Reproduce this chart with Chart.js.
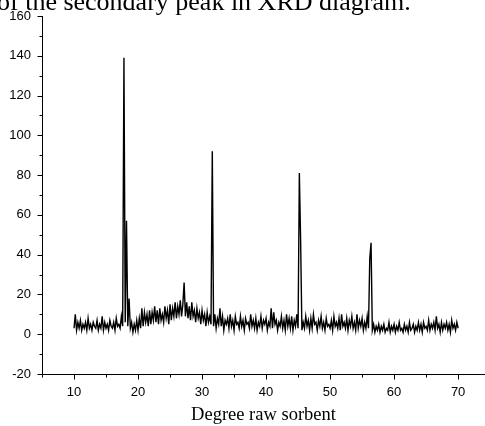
<!DOCTYPE html>
<html>
<head>
<meta charset="utf-8">
<script src="https://cdn.jsdelivr.net/npm/chart.js@4"></script>
<style>
  html, body { margin: 0; padding: 0; background: #fff; }
  canvas { display: block; }
</style>
</head>
<body>
<canvas id="xrd-chart" width="485" height="426"></canvas>
<script>
// XRD pattern of the raw sorbent, sampled every 0.2 degree from 10 to 70
const angleStart = 10;
const angleStep = 0.2;
const intensity = [
    3, 10, 2, 6, 3, 7, 2, 5, 3, 6,
    2, 8, 3, 5, 2, 6, 4, 3, 7, 2,
    5, 3, 9, 2, 6, 3, 5, 2, 7, 4,
    3, 6, 2, 8, 4, 5, 3, 9, 4, 139,
    6, 57, 4, 18, 3, 6, 1, 5, 2, 7,
    2, 8, 3, 13, 4, 11, 6, 10, 4, 12,
    5, 11, 7, 14, 6, 12, 5, 13, 7, 10,
    6, 14, 8, 12, 5, 15, 7, 13, 9, 16,
    8, 14, 10, 17, 9, 15, 26, 9, 16, 8,
    14, 7, 16, 9, 12, 6, 13, 8, 11, 5,
    12, 7, 10, 4, 11, 6, 9, 5, 92, 4,
    10, 3, 8, 5, 13, 4, 9, 2, 7, 5,
    8, 3, 10, 4, 7, 2, 9, 5, 6, 3,
    9, 4, 7, 2, 8, 5, 6, 3, 10, 4,
    7, 3, 8, 2, 6, 4, 9, 3, 7, 5,
    8, 2, 6, 4, 13, 3, 11, 5, 7, 2,
    6, 4, 9, 3, 7, 2, 10, 4, 8, 3,
    9, 2, 7, 4, 10, 3, 81, 47, 2, 6,
    3, 9, 4, 7, 2, 8, 3, 10, 5, 6,
    2, 7, 4, 9, 3, 6, 2, 8, 4, 5,
    3, 7, 2, 9, 4, 6, 3, 8, 2, 10,
    4, 6, 3, 8, 2, 7, 4, 9, 3, 6,
    2, 10, 3, 7, 4, 8, 2, 6, 3, 9,
    3, 38, 46, 2, 5, 1, 4, 2, 5, 1,
    4, 2, 5, 1, 3, 2, 6, 1, 4, 2,
    5, 1, 4, 2, 6, 2, 3, 1, 5, 2,
    4, 1, 6, 2, 3, 5, 1, 4, 2, 6,
    2, 5, 1, 6, 3, 4, 2, 7, 2, 5,
    3, 6, 2, 9, 3, 5, 1, 6, 2, 5,
    3, 6, 2, 5, 1, 7, 3, 5, 2, 6,
    3
];

const xTickLabels = [10, 20, 30, 40, 50, 60, 70];
const yTickLabels = [-20, 0, 20, 40, 60, 80, 100, 120, 140, 160];
const xAxisTitle = 'Degree raw sorbent';
const captionText = 'of the secondary peak in XRD diagram.';

let points = intensity.map((v, i) => ({ x: angleStart + i * angleStep, y: v }));

// Axis lines and tick marks (major + minor), drawn Origin style
const axisPlugin = {
    id: 'axisPlugin',
    afterDraw(chart) {
        const ctx = chart.ctx;
        const area = chart.chartArea;
        const xs = chart.scales.x;
        const ys = chart.scales.y;
        ctx.save();
        ctx.strokeStyle = '#000';
        ctx.lineWidth = 1;
        ctx.beginPath();
        let ax = Math.round(area.left) + 0.5;
        let ay = Math.round(area.bottom) + 0.5;
        ctx.moveTo(ax, Math.round(area.top));
        ctx.lineTo(ax, ay);
        ctx.lineTo(area.right, ay);
        for (let v = -20; v <= 160; v += 10) {
            let py = Math.round(ys.getPixelForValue(v)) + 0.5;
            let len = v % 20 === 0 ? 5 : 3;
            ctx.moveTo(ax - len, py);
            ctx.lineTo(ax, py);
        }
        for (let v = 5; v <= 70; v += 5) {
            let px = Math.round(xs.getPixelForValue(v)) + 0.5;
            let len = v % 10 === 0 ? 5 : 3;
            ctx.moveTo(px, ay);
            ctx.lineTo(px, ay + len);
        }
        ctx.stroke();

        // caption line of the document, cut at the top
        ctx.fillStyle = '#000';
        ctx.font = "26px 'Liberation Serif', 'Times New Roman', serif";
        ctx.textBaseline = 'alphabetic';
        ctx.textAlign = 'left';
        ctx.fillText(captionText, -3, 10);
        ctx.restore();
    }
};

const tickFont = { family: "'Liberation Sans', Arial, sans-serif", size: 13 };

function noPad(scale) {
    scale.paddingLeft = 0;
    scale.paddingRight = 0;
    scale.paddingTop = 0;
    scale.paddingBottom = 0;
}

var ctx = document.getElementById('xrd-chart').getContext('2d');
var xrdChart = new Chart(ctx, {
    type: 'line',
    data: {
        datasets: [{
            data: points,
            borderColor: '#000',
            borderWidth: 1.4,
            pointRadius: 0,
            tension: 0,
            fill: false
        }]
    },
    options: {
        responsive: false,
        devicePixelRatio: 1,
        animation: false,
        layout: { padding: { top: 16, left: 0, right: 0, bottom: 0 } },
        plugins: {
            legend: { display: false },
            tooltip: { enabled: false }
        },
        scales: {
            x: {
                type: 'linear',
                min: 5,
                max: 74.2,
                grid: { display: false, drawTicks: false },
                border: { display: false },
                afterBuildTicks: (scale) => {
                    scale.ticks = xTickLabels.map(v => ({ value: v }));
                },
                ticks: {
                    autoSkip: false,
                    maxRotation: 0,
                    padding: 11,
                    color: '#000',
                    font: tickFont
                },
                title: {
                    display: true,
                    text: xAxisTitle,
                    color: '#000',
                    font: { family: "'Liberation Serif', 'Times New Roman', serif", size: 18.5 },
                    padding: { top: 0, bottom: 0 }
                },
                afterFit: (scale) => { scale.height = 52; noPad(scale); }
            },
            y: {
                type: 'linear',
                min: -20,
                max: 160,
                grid: { display: false, drawTicks: false },
                border: { display: false },
                afterBuildTicks: (scale) => {
                    scale.ticks = yTickLabels.map(v => ({ value: v }));
                },
                ticks: {
                    padding: 11,
                    color: '#000',
                    font: tickFont
                },
                afterFit: (scale) => { scale.width = 42; noPad(scale); }
            }
        }
    },
    plugins: [axisPlugin]
});
</script>
</body>
</html>
